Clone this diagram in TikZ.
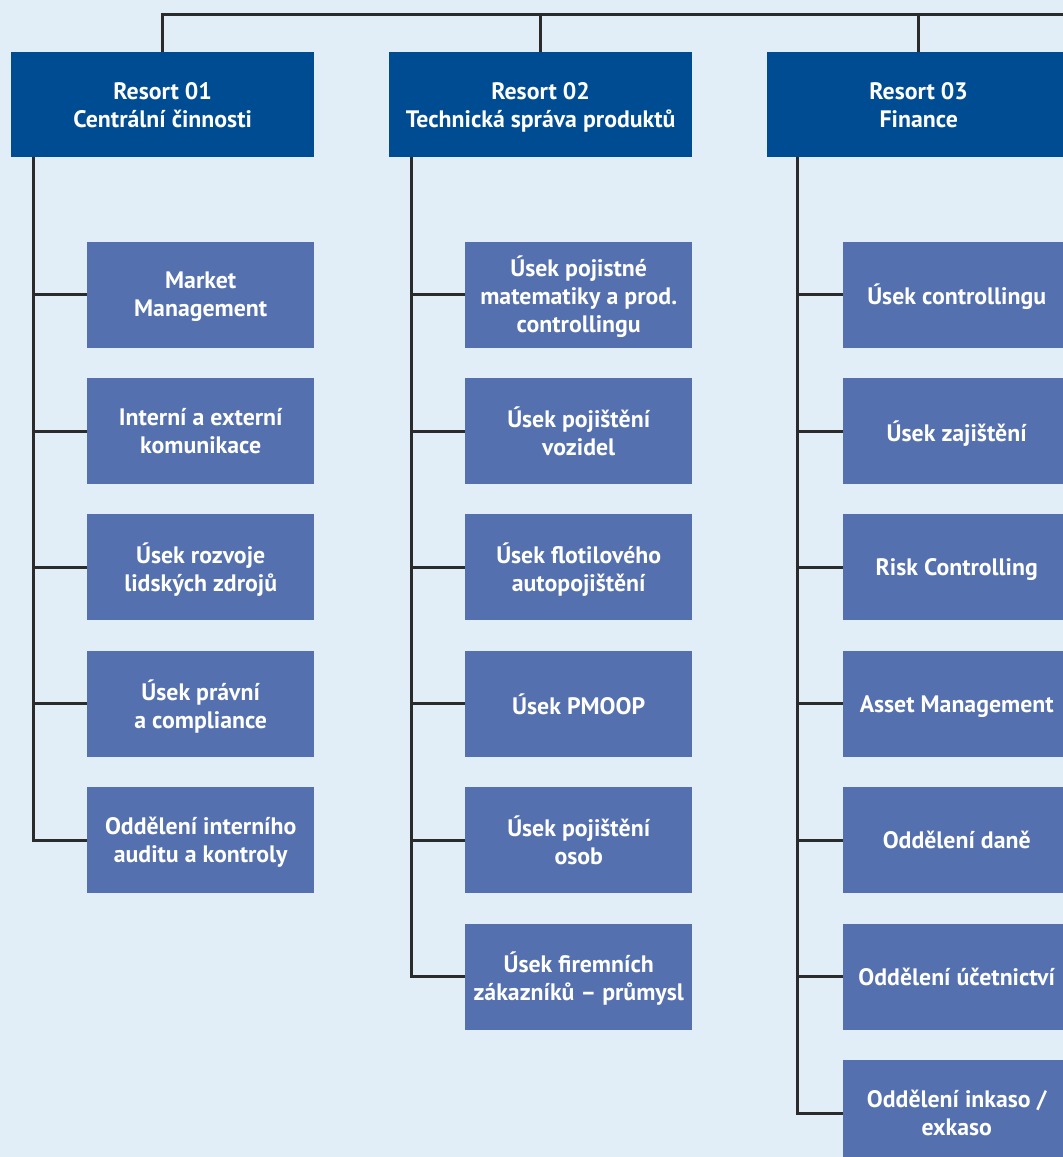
\documentclass[tikz,border=0pt]{standalone}
\usepackage{fontspec}
\setmainfont{PT Sans}
\usetikzlibrary{positioning}
\definecolor{pagebg}{HTML}{E1EDF7}
\definecolor{resortblue}{HTML}{004C93}
\definecolor{unitblue}{HTML}{5470AE}
\definecolor{linegray}{HTML}{2B2B2B}
\tikzset{
  box/.style={text=white,font=\bfseries\fontsize{23.8}{28}\selectfont,align=center,inner sep=0pt,text depth=0pt},
  resort/.style={box,fill=resortblue,minimum width=303pt,minimum height=105pt},
  unit/.style={box,fill=unitblue,minimum width=227pt,minimum height=106pt},
  link/.style={draw=linegray,line width=3pt}
}

\begin{document}
\begin{tikzpicture}[x=1pt,y=-1pt]
		\fill[pagebg] (0,0) rectangle (1063,1157);
		\useasboundingbox (0,0) rectangle (1063,1157);
		\clip (0,0) rectangle (1063,1157);
		% resorts
		\node[resort,anchor=north west] (r1) at (11,52) {Resort 01\\Centrální činnosti};
		\node[resort,anchor=north west] (r2) at (389,52) {Resort 02\\Technická správa produktů};
		\node[resort,anchor=north west] (r3) at (767,52) {Resort 03\\Finance};
		\coordinate (bus) at (1070,14);
		\draw[link] (r1.north) |- (bus);
		\draw[link] (r2.north) -- (r2.north |- bus);
		\draw[link] (r3.north) -- (r3.north |- bus);
		% Resort 01
		\node[unit,anchor=north west] (a1) at ([xshift=76pt,yshift=-84pt]r1.south west) {Market\\Management};
		\node[unit,below=30pt of a1] (a2) {Interní a externí\\komunikace};
		\node[unit,below=30pt of a2] (a3) {Úsek rozvoje\\lidských zdrojů};
		\node[unit,below=30pt of a3] (a4) {Úsek právní\\a compliance};
		\node[unit,below=30pt of a4] (a5) {Oddělení interního\\auditu a kontroly};
		\coordinate (s1) at ([xshift=22pt]r1.south west);
		\foreach \u in {a1,a2,a3,a4,a5}
			\draw[link] (s1) |- (\u.west);
		% Resort 02
		\node[unit,anchor=north west] (b1) at ([xshift=76pt,yshift=-84pt]r2.south west) {Úsek pojistné\\matematiky a prod.\\controllingu};
		\node[unit,below=30pt of b1] (b2) {Úsek pojištění\\vozidel};
		\node[unit,below=30pt of b2] (b3) {Úsek flotilového\\autopojištění};
		\node[unit,below=30pt of b3] (b4) {Úsek PMOOP};
		\node[unit,below=30pt of b4] (b5) {Úsek pojištění\\osob};
		\node[unit,below=30pt of b5] (b6) {Úsek firemních\\zákazníků – průmysl};
		\coordinate (s2) at ([xshift=22pt]r2.south west);
		\foreach \u in {b1,b2,b3,b4,b5,b6}
			\draw[link] (s2) |- (\u.west);
		% Resort 03
		\node[unit,anchor=north west] (c1) at ([xshift=76pt,yshift=-84pt]r3.south west) {Úsek controllingu};
		\node[unit,below=30pt of c1] (c2) {Úsek zajištění};
		\node[unit,below=30pt of c2] (c3) {Risk Controlling};
		\node[unit,below=30pt of c3] (c4) {Asset Management};
		\node[unit,below=30pt of c4] (c5) {Oddělení daně};
		\node[unit,below=30pt of c5] (c6) {Oddělení účetnictví};
		\node[unit,below=30pt of c6] (c7) {Oddělení inkaso /\\exkaso};
		\coordinate (s3) at ([xshift=30pt]r3.south west);
		\foreach \u in {c1,c2,c3,c4,c5,c6,c7}
			\draw[link] (s3) |- (\u.west);
\end{tikzpicture}
\end{document}
